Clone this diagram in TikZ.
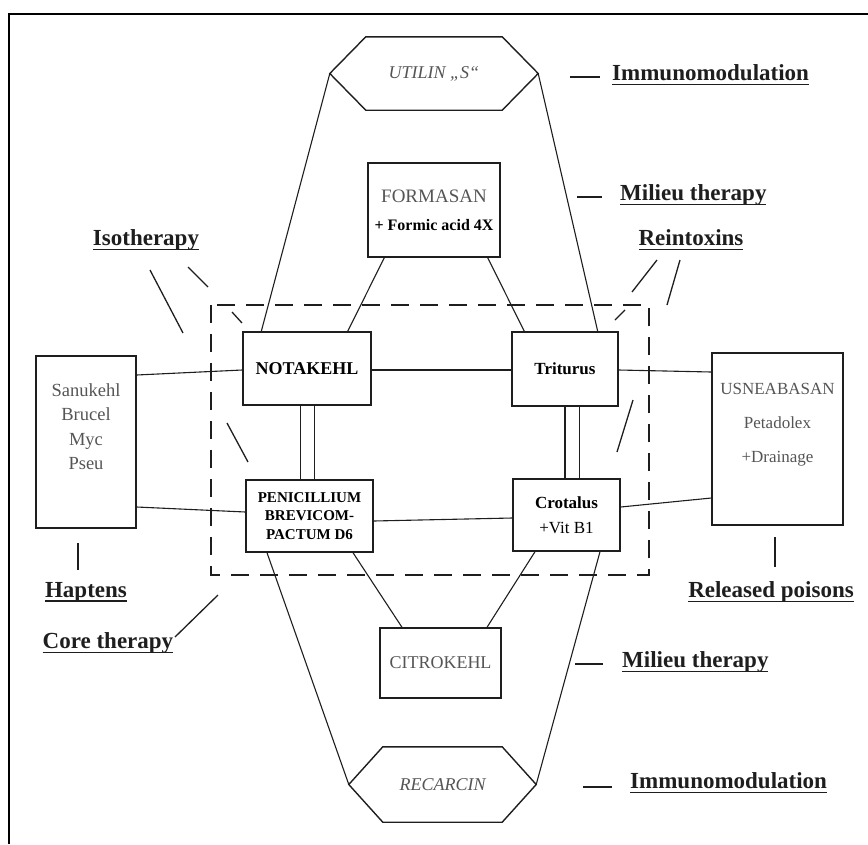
\documentclass[tikz,border=0pt]{standalone}
\usepackage{fontspec}
\setmainfont{Liberation Serif}
\usepackage{tikz}
\usetikzlibrary{positioning, calc}
\definecolor{inkgray}{HTML}{555555}
\definecolor{scanblack}{HTML}{1E1E1E}
\newcommand{\tagunder}[1]{\setbox0\hbox{#1}\rlap{\rule[-4.5pt]{\wd0}{1.4pt}}\box0}
\newcommand{\hexoutline}[2]{%
  \draw[hexline] (#1.west) -- ([xshift=#2]#1.north west) -- ([xshift=-#2]#1.north east)
    -- (#1.east) -- ([xshift=-#2]#1.south east) -- ([xshift=#2]#1.south west) -- cycle;}

\begin{document}
\begin{tikzpicture}[x=1pt, y=-1pt,
    box/.style={rectangle, draw=scanblack, line width=1.4pt, inner sep=0pt, align=center},
    hexnode/.style={rectangle, inner sep=0pt, font=\fontsize{18}{22}\selectfont\itshape, text=inkgray},
    hexline/.style={draw=scanblack, line width=1.4pt},
    drug/.style={font=\fontsize{18}{22}\selectfont, text=inkgray},
    core/.style={font=\fontsize{17}{20}\selectfont\bfseries},
    link/.style={draw=scanblack, line width=1.1pt},
    dbl/.style={draw=scanblack, line width=1.1pt, double=white, double distance=13pt},
    groupbox/.style={draw=scanblack, line width=1.6pt, dash pattern=on 18pt off 11pt},
    tag/.style={font=\fontsize{23}{26}\selectfont\bfseries, inner sep=0pt, text=scanblack},
    tick/.style={draw=scanblack, line width=1.3pt}
]
    \useasboundingbox (0,0) rectangle (868,844);
    \draw[line width=2.2pt] (9,844) -- (9,14) -- (868,14);

    % Nodes
    \node[hexnode, minimum width=208pt, minimum height=73pt] (utilin) at (434,73.5) {UTILIN „S“};
    \hexoutline{utilin}{36pt}
    \node[box, minimum width=132pt, minimum height=94pt, font=\fontsize{16}{28}\selectfont] (formasan) at (434,210)
        {{\color{inkgray}\fontsize{19}{28}\selectfont FORMASAN}\\{\bfseries + Formic acid 4X}};
    \node[box, core, font=\fontsize{18}{20}\selectfont\bfseries, minimum width=128pt, minimum height=73pt] (notakehl) at (307,368.5) {NOTAKEHL};
    \node[box, core, minimum width=106pt, minimum height=74pt] (triturus) at (565,369) {Triturus};
    \node[box, core, font=\fontsize{15}{18.5}\selectfont\bfseries, minimum width=127pt, minimum height=72pt] (penicillium) at (309.5,516)
        {PENICILLIUM\\BREVICOM-\\PACTUM D6};
    \node[box, minimum width=107pt, minimum height=72pt, font=\fontsize{17}{25}\selectfont] (crotalus) at (566.5,515)
        {{\bfseries Crotalus}\\+Vit B1};
    \node[box, minimum width=100pt, minimum height=172pt] (sanukehl) at (86,442) {};
    \node[drug, align=center, inner sep=0pt, font=\fontsize{18.5}{24.5}\selectfont, below=28pt of sanukehl.north] (sanukehltext)
        {Sanukehl\\Brucel\\Myc\\Pseu};
    \node[box, minimum width=131pt, minimum height=172pt] (usnea) at (777.5,439) {};
    \node[drug, align=center, inner sep=0pt, font=\fontsize{17}{34}\selectfont, below=31pt of usnea.north] (usneatext)
        {USNEABASAN\\Petadolex\\+Drainage};
    \node[box, drug, minimum width=121pt, minimum height=70pt] (citrokehl) at (440.5,663) {CITROKEHL};
    \node[hexnode, minimum width=187pt, minimum height=75pt] (recarcin) at (442.5,784.5) {RECARCIN};
    \hexoutline{recarcin}{34pt}

    \draw[groupbox] (211,305) rectangle (649,575);

    % Connectors
    \draw[link] (utilin.west) -- ([xshift=19pt]notakehl.north west);
    \draw[link] (utilin.east) -- ([xshift=-21pt]triturus.north east);
    \draw[link] ([xshift=17pt]formasan.south west) -- ([xshift=-24pt]notakehl.north east);
    \draw[link] ([xshift=-13pt]formasan.south east) -- ([xshift=13pt]triturus.north west);
    \draw[link] ([yshift=-1.5pt]notakehl.east) -- ([yshift=-1pt]triturus.west);
    \draw[dbl] ([xshift=0.5pt]notakehl.south) -- ([xshift=0.5pt]notakehl.south |- penicillium.north);
    \draw[dbl] ([xshift=7pt]triturus.south) -- ([xshift=7pt]triturus.south |- crotalus.north);
    \draw[link] ([yshift=-5pt]penicillium.east) -- ([yshift=-3pt]crotalus.west);
    \draw[link] ([yshift=67pt]sanukehl.east) -- ([yshift=-1.5pt]notakehl.west);
    \draw[link] ([yshift=-65pt]sanukehl.east) -- ([yshift=4pt]penicillium.west);
    \draw[link] ([yshift=-1pt]triturus.east) -- ([yshift=67pt]usnea.west);
    \draw[link] ([yshift=8pt]crotalus.east) -- ([yshift=-59pt]usnea.west);
    \draw[link] ([xshift=43.5pt]penicillium.south) -- ([xshift=-38.5pt]citrokehl.north);
    \draw[link] ([xshift=-31.5pt]crotalus.south) -- ([xshift=46.5pt]citrokehl.north);
    \draw[link] ([xshift=-42.5pt]penicillium.south) -- (recarcin.west);
    \draw[link] ([xshift=33.5pt]crotalus.south) -- (recarcin.east);

    % Labels
    \node[tag, anchor=west] (immtop) at (612,75) {\tagunder{Immunomodulation}};
    \draw[tick] ([xshift=-12pt,yshift=-2pt]immtop.west) -- ++(-30,0);
    \node[tag, anchor=west] (milieutop) at (620,195) {\tagunder{Milieu therapy}};
    \draw[tick] ([xshift=-18pt,yshift=-2pt]milieutop.west) -- ++(-25,0);
    \node[tag] (reintox) at (691,240) {\tagunder{Reintoxins}};
    \node[tag] (isother) at (146,240) {\tagunder{Isotherapy}};
    \node[tag] (haptens) at (86,592) {\tagunder{Haptens}};
    \node[tag] (released) at (771,592) {\tagunder{Released poisons}};
    \node[tag] (coreth) at (108,643) {\tagunder{Core therapy}};
    \node[tag, anchor=west] (milieubot) at (622,662) {\tagunder{Milieu therapy}};
    \draw[tick] ([xshift=-19pt,yshift=-2pt]milieubot.west) -- ++(-28,0);
    \node[tag, anchor=west] (immbot) at (630,783) {\tagunder{Immunomodulation}};
    \draw[tick] ([xshift=-18pt,yshift=-4pt]immbot.west) -- ++(-29,0);

    % Pointer strokes
    \draw[tick] (150,270) -- (183,333);
    \draw[tick] (227,423) -- (248,462);
    \draw[tick] (188,267) -- (208,287);
    \draw[tick] (232,312) -- (242,323);
    \draw[tick] (657,260) -- (632,292);
    \draw[tick] (625,310) -- (615,320);
    \draw[tick] (680,260) -- (667,305);
    \draw[tick] (633,400) -- (617,452);
    \draw[tick] (78,543) -- (78,570);
    \draw[tick] (775,537) -- (775,567);
    \draw[tick] (218,595) -- (175,637);
\end{tikzpicture}
\end{document}
